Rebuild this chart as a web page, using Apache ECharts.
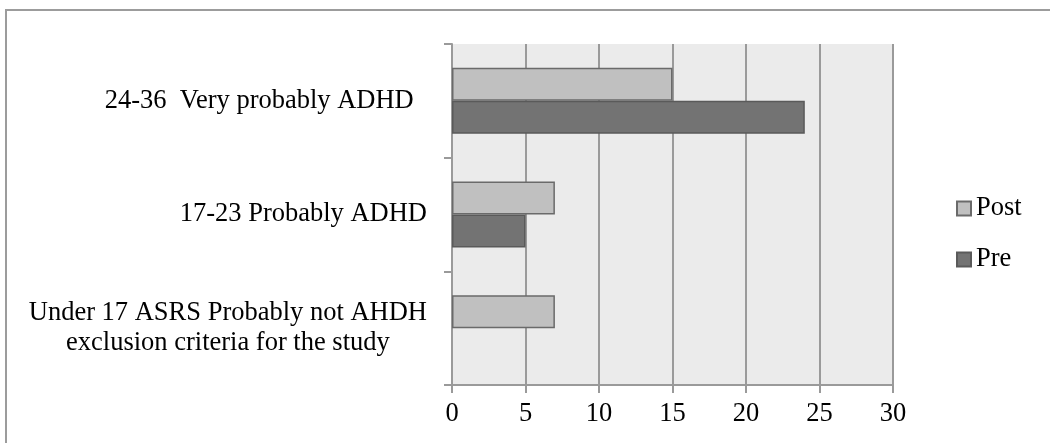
<!DOCTYPE html>
<html>
<head>
<meta charset="utf-8">
<script src="https://cdn.jsdelivr.net/npm/echarts@6/dist/echarts.min.js"></script>
<style>
  html, body { margin: 0; padding: 0; background: #ffffff; }
  #frame { position: absolute; left: 5px; top: 9px; width: 1100px; height: 500px;
           border-top: 2px solid #9c9c9c; border-left: 2px solid #9c9c9c; }
  #chart { position: absolute; left: 0; top: 0; width: 1050px; height: 443px; }
</style>
</head>
<body>
<div id="frame"></div>
<div id="chart"></div>
<script>
// Categories, bottom to top
const categories = [
  "Under 17 ASRS Probably not AHDH\nexclusion criteria for the study",
  "17-23 Probably ADHD",
  "24-36  Very probably ADHD  "
];
const postValues = [7, 7, 15];
const preValues = [0, 5, 24];
const xTicks = { min: 0, max: 30, interval: 5 };

const FONT = "'Liberation Serif', 'Times New Roman', serif";
const FS = 26.5;
const chart = echarts.init(document.getElementById('chart'), null, { renderer: 'canvas' });

function barData(values) {
  // zero-length bars are not outlined (as in the original)
  return values.map(function (v) {
    return v === 0 ? { value: v, itemStyle: { borderWidth: 0 } } : v;
  });
}

chart.setOption({
  animation: false,
  backgroundColor: 'transparent',
  grid: {
    left: 452, right: 157, top: 44, bottom: 58,
    show: true, backgroundColor: '#ebebeb', borderWidth: 0
  },
  legend: {
    orient: 'vertical',
    left: 956, top: 195,
    padding: 0,
    itemGap: 24,
    itemWidth: 14, itemHeight: 14,
    icon: 'rect',
    data: ['Post', 'Pre'],
    textStyle: { fontFamily: FONT, fontSize: FS, color: '#000' }
  },
  xAxis: {
    type: 'value',
    min: xTicks.min, max: xTicks.max, interval: xTicks.interval,
    axisLine: { show: true, lineStyle: { color: '#9a9a9a', width: 2 } },
    axisTick: { show: true, length: 8, lineStyle: { color: '#9a9a9a', width: 2 } },
    splitLine: { show: true, lineStyle: { color: '#9a9a9a', width: 2 } },
    axisLabel: { color: '#000', fontFamily: FONT, fontSize: FS, margin: 16 }
  },
  yAxis: {
    type: 'category',
    data: categories,
    axisLine: { show: true, lineStyle: { color: '#9a9a9a', width: 2 } },
    axisTick: { show: true, length: 8, lineStyle: { color: '#9a9a9a', width: 2 } },
    splitLine: { show: false },
    axisLabel: {
      color: '#000', fontFamily: FONT, fontSize: FS, margin: 25,
      lineHeight: 30,
      formatter: function (v) {
        return v.split('\n').map(function (s) { return '{c|' + s + '}'; }).join('\n');
      },
      rich: { c: { align: 'center', fontFamily: FONT, fontSize: FS, lineHeight: 30, color: '#000' } }
    }
  },
  series: [
    {
      name: 'Post', type: 'bar', data: barData(postValues),
      barCategoryGap: '42%', barGap: '0%',
      itemStyle: { color: '#c0c0c0', borderColor: '#6a6a6a', borderWidth: 1.5 }
    },
    {
      name: 'Pre', type: 'bar', data: barData(preValues),
      barCategoryGap: '42%', barGap: '0%',
      itemStyle: { color: '#737373', borderColor: '#5a5a5a', borderWidth: 1.5 }
    }
  ]
});
</script>
</body>
</html>
